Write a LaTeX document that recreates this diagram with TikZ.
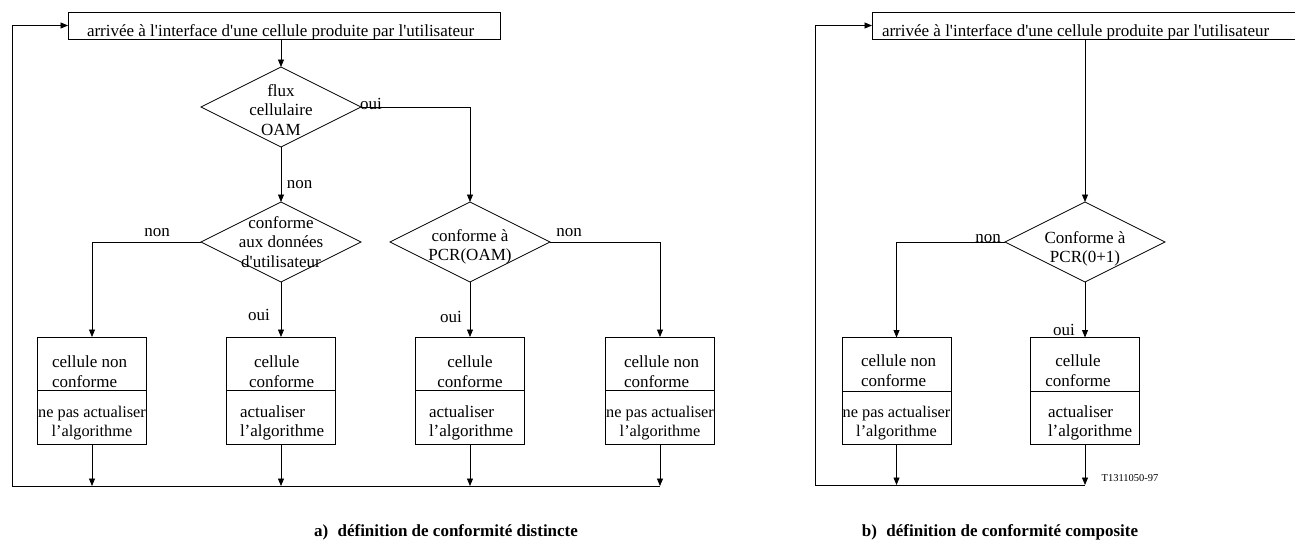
\documentclass[tikz,border=0pt]{standalone}
\usepackage{fontspec}
\setmainfont{Liberation Serif}[Ligatures=TeXOff]
\usetikzlibrary{shapes.geometric,arrows.meta}

\begin{document}
\begin{tikzpicture}[x=1pt,y=-1pt,
  line width=0.8pt,
  every node/.style={inner sep=0pt, outer sep=0pt},
  txt/.style={font=\fontsize{17}{19.5}\selectfont, align=center},
  txtl/.style={font=\fontsize{17}{19.5}\selectfont, align=left, anchor=west},
  narrow/.style={font=\fontsize{16.3}{19.5}\selectfont},
  lbl/.style={font=\fontsize{17}{19.5}\selectfont},
  decision/.style={draw, diamond, minimum width=160pt, minimum height=80pt},
  cellbox/.style={draw, rectangle, minimum width=109pt, minimum height=107pt},
  arrivalbox/.style={draw, rectangle, minimum width=432pt, minimum height=27pt, anchor=north west},
  flow/.style={-{Triangle[length=7.5pt,width=6pt]}},
  caption/.style={font=\bfseries\fontsize{17}{20}\selectfont},
]
\useasboundingbox (0,0) rectangle (1295,542);

% ---------------- a) separate conformance ----------------
\node[arrivalbox] (topA) at (68,12) {};
\node[lbl, anchor=base west] (topAtext) at (87,36) {arrivée à l'interface d'une cellule produite par l'utilisateur};

\node[decision] (d1) at (281,107) {};
\node[txt] (d1text) at (281,110) {flux\\cellulaire\\OAM};

\node[decision] (d2) at (281,242) {};
\node[txt] (d2text) at (281,242) {conforme\\aux données\\d'utilisateur};

\node[decision] (d3) at (470,242) {};
\node[txt] (d3text) at (470,247) {conforme à\\PCR(OAM)};

\node[cellbox] (b1) at (92,390.5) {};
\node[cellbox] (b2) at (281,390.5) {};
\node[cellbox] (b3) at (470,390.5) {};
\node[cellbox] (b4) at (660,390.5) {};
\foreach \b in {b1,b2,b3,b4} \draw (\b.west) -- (\b.east);

\node[txtl] (b1up) at (52,371.5) {cellule non\\conforme};
\node[txt, narrow] (b1lo) at (92,423) {ne pas actualiser\\l’algorithme};
\node[txtl] (b2up) at (249,371.5) {\hspace*{5pt}cellule\\conforme};
\node[txtl] (b2lo) at (240,423) {actualiser\\l’algorithme};
\node[txt]  (b3up) at (470,371.5) {cellule\\conforme};
\node[txtl] (b3lo) at (429,423) {actualiser\\l’algorithme};
\node[txtl] (b4up) at (624,371.5) {cellule non\\conforme};
\node[txt, narrow] (b4lo) at (660,423) {ne pas actualiser\\l’algorithme};

\node[lbl] (ouiA1) at (371,104) {oui};
\node[lbl] (nonA1) at (299.5,185) {non};
\node[lbl] (nonA2) at (157,233) {non};
\node[lbl] (nonA3) at (569,233) {non};
\node[lbl] (ouiA2) at (259,315) {oui};
\node[lbl] (ouiA3) at (451,317) {oui};

\coordinate (cA) at (12,486);
\coordinate (jA) at (b4.south |- cA);

\draw[flow] (topA.south -| d1.north) -- (d1.north);
\draw[flow] (d1.east) -| (d3.north);
\draw[flow] (d1.south) -- (d2.north);
\draw[flow] (d2.west) -| (b1.north);
\draw[flow] (d3.east) -| (b4.north);
\draw[flow] (d2.south) -- (b2.north);
\draw[flow] (d3.south) -- (b3.north);
\foreach \b in {b1,b2,b3,b4} \draw[flow] (\b.south) -- (\b.south |- cA);
\draw[flow] (jA) -- (cA) |- (topA.west);

\node[caption] (capA) at (446,532) {a)\hspace{0.55em}définition de conformité distincte};

% ---------------- b) composite conformance ----------------
\node[arrivalbox] (topB) at (872,12) {};
\node[lbl, anchor=base west] (topBtext) at (882,36) {arrivée à l'interface d'une cellule produite par l'utilisateur};

\node[decision] (d4) at (1085,242) {};
\node[txt] (d4text) at (1085,249) {Conforme à\\PCR(0+1)};

\node[cellbox] (b5) at (896.5,391) {};
\node[cellbox] (b6) at (1085,391) {};
\foreach \b in {b5,b6} \draw (\b.west) -- (\b.east);

\node[txtl] (b5up) at (861,370.5) {cellule non\\conforme};
\node[txt, narrow] (b5lo) at (896.5,423) {ne pas actualiser\\l’algorithme};
\node[txt]  (b6up) at (1078,370.5) {cellule\\conforme};
\node[txtl] (b6lo) at (1048,423) {actualiser\\l’algorithme};

\node[lbl] (nonB) at (988,239) {non};
\node[lbl] (ouiB) at (1064,330) {oui};

\coordinate (cB) at (815,485);
\coordinate (jB) at (b6.south |- cB);

\draw[flow] (topB.south -| d4.north) -- (d4.north);
\draw[flow] (d4.west) -| (b5.north);
\draw[flow] (d4.south) -- (b6.north);
\foreach \b in {b5,b6} \draw[flow] (\b.south) -- (\b.south |- cB);
\draw[flow] (jB) -- (cB) |- (topB.west);

\node[font=\fontsize{10.5}{12}\selectfont] (ref) at (1130,478) {T1311050-97};

\node[caption] (capB) at (1000,532) {b)\hspace{0.55em}définition de conformité composite};
\end{tikzpicture}
\end{document}
